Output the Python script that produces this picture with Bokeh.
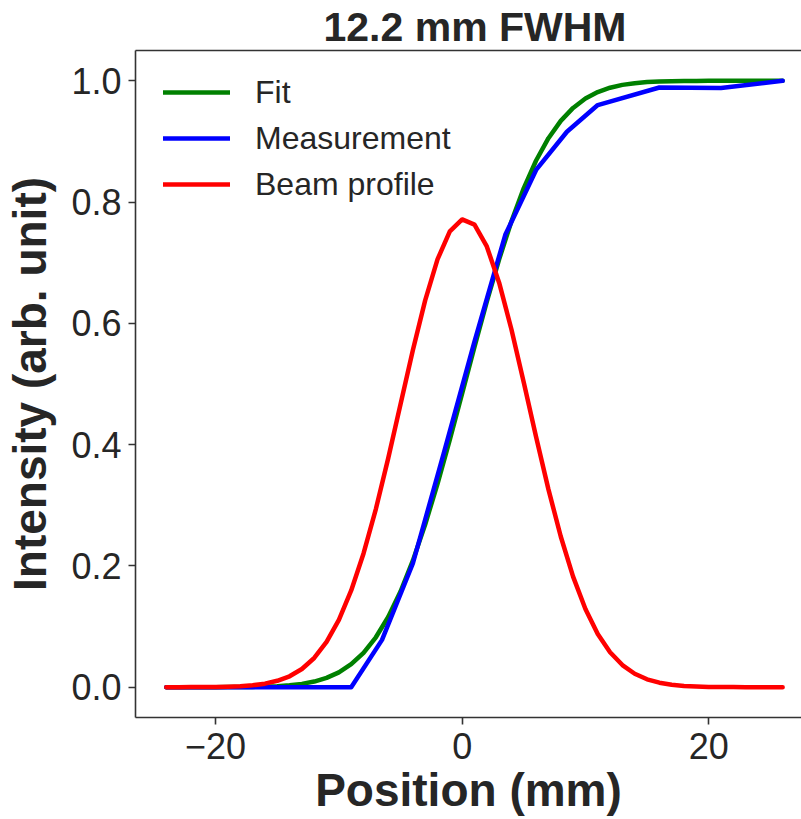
from bokeh.plotting import figure
from bokeh.models import Range1d, FixedTicker, LinearAxis, Legend, LegendItem
from bokeh.embed import file_html
from bokeh.resources import INLINE

# Position grid (mm) for the fit and beam profile curves
x_grid = list(range(-24, 27))

fit = [0.0000, 0.0000, 0.0000, 0.0000, 0.0000, 0.0001, 0.0002, 0.0005, 0.0009, 0.0017,
       0.0031, 0.0054, 0.0093, 0.0153, 0.0245, 0.0379, 0.0567, 0.0823, 0.1157, 0.1577,
       0.2087, 0.2683, 0.3354, 0.4083, 0.4846, 0.5612, 0.6357, 0.7056, 0.7684, 0.8231,
       0.8686, 0.9054, 0.9340, 0.9553, 0.9708, 0.9815, 0.9886, 0.9933, 0.9961, 0.9979,
       0.9989, 0.9994, 0.9997, 0.9999, 1.0000, 1.0000, 1.0000, 1.0000, 1.0000, 1.0000,
       1.0000]

beam = [0.0000, 0.0000, 0.0001, 0.0002, 0.0004, 0.0008, 0.0016, 0.0031, 0.0058, 0.0105,
        0.0180, 0.0300, 0.0482, 0.0746, 0.1111, 0.1595, 0.2206, 0.2938, 0.3773, 0.4664,
        0.5558, 0.6379, 0.7055, 0.7516, 0.7714, 0.7629, 0.7268, 0.6671, 0.5899, 0.5026,
        0.4125, 0.3262, 0.2485, 0.1824, 0.1289, 0.0879, 0.0577, 0.0365, 0.0222, 0.0130,
        0.0074, 0.0040, 0.0021, 0.0011, 0.0005, 0.0002, 0.0001, 0.0000, 0.0000, 0.0000,
        0.0000]

meas_x = [-24, -19, -14, -9, -6.5, -4, -1.5, 1, 3.5, 6, 8.5, 11, 16, 21, 26]
meas_y = [0.0, 0.0, 0.0, 0.0, 0.078, 0.204, 0.385, 0.57, 0.746, 0.853, 0.916, 0.960, 0.989, 0.988, 1.0]

x_ticks = [-20, 0, 20]
y_ticks = [0.0, 0.2, 0.4, 0.6, 0.8, 1.0]

TXT = "#262626"
AX = "#333333"
FONT = "Liberation Sans"

p = figure(width=801, height=819, output_backend="svg", toolbar_location=None,
           x_range=Range1d(-26.5, 27.53), y_range=Range1d(-0.05, 1.05),
           min_border_left=135, min_border_right=0, min_border_top=50, min_border_bottom=102)
p.outline_line_color = None
p.xgrid.visible = False
p.ygrid.visible = False
p.background_fill_color = "white"
p.border_fill_color = "white"

r_fit = p.line(x_grid, fit, line_color="#008000", line_width=4.5, line_cap="round", line_join="round")
r_meas = p.line(meas_x, meas_y, line_color="#0000ff", line_width=4.5, line_cap="round", line_join="round")
r_beam = p.line(x_grid, beam, line_color="#ff0000", line_width=4.5, line_cap="round", line_join="round")

p.title.text = "12.2 mm FWHM"
p.title.text_font = FONT
p.title.text_font_size = "41px"
p.title.text_font_style = "bold"
p.title.text_color = TXT
p.title.align = "left"
p.title.offset = 188
p.title.standoff = 2

for ax in (p.xaxis[0], p.yaxis[0]):
    ax.axis_line_color = AX
    ax.axis_line_width = 1.6
    ax.major_tick_line_color = AX
    ax.major_tick_line_width = 1.6
    ax.major_tick_out = 7
    ax.major_tick_in = 0
    ax.minor_tick_line_color = None
    ax.major_label_text_font = FONT
    ax.major_label_text_font_size = "36px"
    ax.major_label_text_color = TXT
    ax.axis_label_text_font = FONT
    ax.axis_label_text_font_size = "46px"
    ax.axis_label_text_font_style = "bold"
    ax.axis_label_text_color = TXT

p.xaxis[0].ticker = FixedTicker(ticks=x_ticks)
p.xaxis[0].major_label_overrides = {-20: "\u221220", 0: "0", 20: "20"}
p.xaxis[0].axis_label = "Position (mm)"
p.xaxis[0].major_label_standoff = 8
p.xaxis[0].axis_label_standoff = 2

p.yaxis[0].ticker = FixedTicker(ticks=y_ticks)
p.yaxis[0].major_label_overrides = {0: "0.0", 0.2: "0.2", 0.4: "0.4", 0.6: "0.6", 0.8: "0.8", 1: "1.0"}
p.yaxis[0].axis_label = "Intensity (arb. unit)"
p.yaxis[0].major_label_standoff = 7
p.yaxis[0].axis_label_standoff = 12

top = LinearAxis(ticker=FixedTicker(ticks=[]), axis_line_color=AX, axis_line_width=1.6,
                 major_tick_line_color=None, minor_tick_line_color=None,
                 major_label_text_font_size="0px")
p.add_layout(top, "above")

legend = Legend(items=[LegendItem(label="Fit", renderers=[r_fit]),
                       LegendItem(label="Measurement", renderers=[r_meas]),
                       LegendItem(label="Beam profile", renderers=[r_beam])],
                location="top_left", margin=0, padding=0, spacing=6,
                glyph_width=67, glyph_height=40, label_height=40, label_standoff=25,
                label_text_font=FONT, label_text_font_size="32px", label_text_color=TXT,
                border_line_color=None, background_fill_alpha=0)
legend.location = (28, 513)
p.add_layout(legend)

open("out.html", "w").write(file_html(p, INLINE))
